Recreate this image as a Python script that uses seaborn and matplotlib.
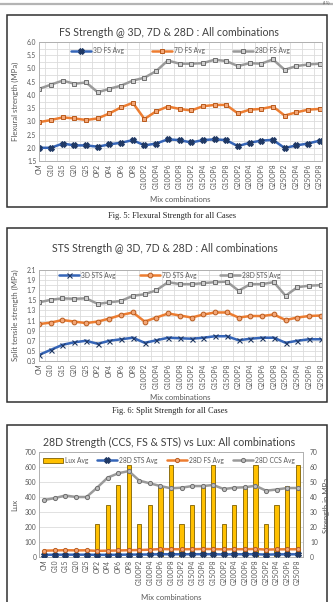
import numpy as np
import pandas as pd
import matplotlib
matplotlib.use("Agg")
import matplotlib.pyplot as plt
from matplotlib.patches import Rectangle
from matplotlib.lines import Line2D
from matplotlib.ticker import MultipleLocator, FixedLocator
import seaborn as sns

# mix names (x axis of all three charts)
mixes = ["CM", "G10", "G15", "G20", "G25", "OP2", "OP4", "OP6", "OP8",
         "G10OP2", "G10OP4", "G10OP6", "G10OP8", "G15OP2", "G15OP4", "G15OP6", "G15OP8",
         "G20OP2", "G20OP4", "G20OP6", "G20OP8", "G25OP2", "G25OP4", "G25OP6", "G25OP8"]

# flexural strength (MPa)
fs_3d = [2.00, 2.00, 2.16, 2.09, 2.09, 2.04, 2.13, 2.19, 2.29, 2.09, 2.16, 2.32, 2.29,
         2.20, 2.29, 2.32, 2.29, 2.06, 2.19, 2.27, 2.30, 1.99, 2.09, 2.16, 2.27]
fs_7d = [2.97, 3.05, 3.15, 3.11, 3.05, 3.11, 3.30, 3.53, 3.70, 3.09, 3.38, 3.56, 3.47,
         3.41, 3.57, 3.62, 3.62, 3.30, 3.44, 3.47, 3.56, 3.22, 3.34, 3.44, 3.47]
fs_28d = [4.23, 4.39, 4.54, 4.42, 4.47, 4.10, 4.23, 4.35, 4.54, 4.65, 4.90, 5.30, 5.18,
          5.18, 5.20, 5.33, 5.28, 5.09, 5.20, 5.18, 5.34, 4.95, 5.09, 5.15, 5.18]

# split tensile strength (MPa)
sts_3d = [0.42, 0.52, 0.62, 0.67, 0.70, 0.64, 0.70, 0.73, 0.76, 0.66, 0.71, 0.76, 0.75,
          0.74, 0.76, 0.79, 0.79, 0.71, 0.74, 0.76, 0.76, 0.66, 0.70, 0.73, 0.73]
sts_7d = [1.03, 1.06, 1.11, 1.08, 1.05, 1.08, 1.14, 1.21, 1.26, 1.08, 1.16, 1.24, 1.20,
          1.16, 1.22, 1.26, 1.26, 1.16, 1.19, 1.19, 1.22, 1.11, 1.16, 1.19, 1.20]
sts_28d = [1.46, 1.51, 1.54, 1.53, 1.54, 1.43, 1.46, 1.49, 1.59, 1.62, 1.70, 1.86, 1.82,
           1.82, 1.84, 1.86, 1.87, 1.69, 1.82, 1.82, 1.86, 1.59, 1.76, 1.79, 1.80]

# lux and 28D compressive strength
lux = [0, 0, 0, 0, 0, 220, 350, 480, 615, 220, 350, 470, 615,
       220, 350, 475, 615, 220, 350, 475, 615, 220, 350, 475, 615]
ccs_28d = [38.0, 39.3, 41.0, 40.0, 40.0, 46.2, 52.9, 55.8, 57.3, 50.9, 49.1, 47.3, 45.8,
           46.2, 47.3, 47.3, 48.0, 45.3, 46.2, 46.5, 47.5, 44.2, 45.0, 46.0, 46.0]

W, H = 333, 602
BLUE, BLUE_D = "#3565b8", "#1f3864"
ORANGE, ORANGE_D = "#ed7d31", "#b85a1c"
GREY, GREY_D = "#9a9a9a", "#6e6e6e"
GRID = "#dcdcdc"
TXT = "#595959"
FONT = ["Lato", "DejaVu Sans"]

sns.set_theme(style="white")
plt.rcParams["font.family"] = FONT


def box(l, t, r, b):
    return [l / W, 1 - b / H, (r - l) / W, (b - t) / H]


def fx(x):
    return x / W


def fy(y):
    return 1 - y / H


fig = plt.figure(figsize=(W / 100, H / 100), dpi=100)
fig.patch.set_facecolor("white")

# page rule and page number at the very top
fig.add_artist(Line2D([0, 1], [fy(4), fy(4)], transform=fig.transFigure, color="#b4b4b4", lw=1.6))
fig.text(fx(330), fy(0.2), "(15)", ha="right", va="top", fontsize=3.2, color="#444444",
         family="Liberation Serif")

# chart frames and captions
for top, bot in [(15, 207), (228, 402), (425, 604)]:
    fig.add_artist(Rectangle((fx(7), fy(bot)), (327 - 7) / W, (bot - top) / H,
                             transform=fig.transFigure, fill=False, ec="#303030", lw=1.1))
fig.text(fx(172), fy(216), "Fig. 5: Flexural Strength for all Cases", ha="center", va="center",
         fontsize=6.0, family="Liberation Serif", color="#222222")
fig.text(fx(170), fy(411), "Fig. 6: Split Strength for all Cases", ha="center", va="center",
         fontsize=6.0, family="Liberation Serif", color="#222222")

idx = np.arange(len(mixes))


def style_axis(ax, ylo, yhi, major, minor, vgrid=True):
    ax.set_ylim(ylo, yhi)
    ax.yaxis.set_major_locator(MultipleLocator(major))
    ax.yaxis.set_minor_locator(MultipleLocator(minor))
    ax.set_xticks(idx)
    ax.set_xticklabels(mixes, rotation=90, fontsize=4.8, color=TXT)
    ax.tick_params(axis="both", length=0, pad=2, labelsize=4.8, colors=TXT)
    ax.grid(True, which="both", axis="y", color=GRID, lw=0.6)
    if vgrid:
        ax.xaxis.set_minor_locator(FixedLocator(idx[:-1] + 0.5))
        ax.grid(True, which="minor", axis="x", color=GRID, lw=0.6)
    ax.set_axisbelow(True)
    for s in ax.spines.values():
        s.set_color("#b0b0b0")
        s.set_linewidth(0.7)
    ax.set_xlabel("")
    ax.set_ylabel("")


# ---- chart 1: flexural strength
ax1 = fig.add_axes(box(39, 42, 322, 161))
sns.lineplot(x=idx, y=fs_3d, ax=ax1, color=BLUE, lw=1.8, marker="X", ms=4.2,
             mfc=BLUE_D, mec=BLUE_D, label="3D FS Avg")
sns.lineplot(x=idx, y=fs_7d, ax=ax1, color=ORANGE, lw=1.8, marker="s", ms=3.4,
             mfc="#f4a777", mec=ORANGE_D, mew=0.7, label="7D FS Avg")
sns.lineplot(x=idx, y=fs_28d, ax=ax1, color=GREY, lw=1.8, marker="s", ms=3.4,
             mfc="#cfcfcf", mec=GREY_D, mew=0.7, label="28D FS Avg")
ax1.set_xlim(-0.03, 24.2)
style_axis(ax1, 1.5, 6.0, 0.5, 0.25)
ax1.set_yticklabels([f"{v:.1f}" for v in ax1.get_yticks()])
ax1.legend(loc="center", bbox_to_anchor=(fx(180), fy(51)), bbox_transform=fig.transFigure,
           ncol=3, frameon=False, fontsize=4.8, handlelength=3.0, columnspacing=4.2,
           handletextpad=0.3, labelcolor=TXT)
fig.text(fx(169), fy(33), "FS Strength @ 3D, 7D & 28D : All combinations", ha="center",
         va="center", fontsize=7.6, color="#404040")
fig.text(fx(15), fy(101), "Flexural strength (MPa)", rotation=90, ha="center", va="center",
         fontsize=5.6, color=TXT)
fig.text(fx(180), fy(200), "Mix combinations", ha="center", va="center", fontsize=5.6, color=TXT)

# ---- chart 2: split tensile strength
ax2 = fig.add_axes(box(39, 270, 322, 361))
sns.lineplot(x=idx, y=sts_3d, ax=ax2, color=BLUE, lw=1.8, marker="x", ms=3.6,
             mec=BLUE_D, mew=0.8, label="3D STS Avg")
sns.lineplot(x=idx, y=sts_7d, ax=ax2, color=ORANGE, lw=1.8, marker="o", ms=3.4,
             mfc="#f4a777", mec=ORANGE_D, mew=0.7, label="7D STS Avg")
sns.lineplot(x=idx, y=sts_28d, ax=ax2, color=GREY, lw=1.8, marker="s", ms=3.4,
             mfc="#cfcfcf", mec=GREY_D, mew=0.7, label="28D STS Avg")
ax2.set_xlim(0, 24.1)
style_axis(ax2, 0.3, 2.1, 0.2, 0.1)
ax2.set_yticks(np.arange(0.3, 2.11, 0.2))
ax2.set_yticklabels([f"{v:.1f}" for v in np.arange(0.3, 2.11, 0.2)])
ax2.legend(loc="center", bbox_to_anchor=(fx(170), fy(275)), bbox_transform=fig.transFigure,
           ncol=3, frameon=False, fontsize=4.8, handlelength=3.0, columnspacing=3.6,
           handletextpad=0.3, labelcolor=TXT)
fig.text(fx(165), fy(249), "STS Strength @ 3D, 7D & 28D : All combinations", ha="center",
         va="center", fontsize=7.6, color="#404040")
fig.text(fx(15), fy(315), "Split tensile strength (MPa)", rotation=90, ha="center", va="center",
         fontsize=5.6, color=TXT)
fig.text(fx(180), fy(397), "Mix combinations", ha="center", va="center", fontsize=5.6, color=TXT)

# ---- chart 3: 28D strengths vs lux
ax3 = fig.add_axes(box(39, 452, 303, 557))
sns.barplot(x=mixes, y=lux, ax=ax3, color="#ffc000", saturation=1, width=0.4,
            edgecolor="#7f6000", linewidth=0.6, label="Lux Avg")
ax3.set_xlim(-0.5, 24.5)
style_axis(ax3, 0, 700, 100, 100, vgrid=False)
ax3b = ax3.twinx()
sns.lineplot(x=idx, y=sts_28d, ax=ax3b, color=BLUE, lw=1.8, marker="X", ms=3.8,
             mfc=BLUE_D, mec=BLUE_D, label="28D STS Avg")
sns.lineplot(x=idx, y=fs_28d, ax=ax3b, color=ORANGE, lw=1.8, marker="o", ms=3.0,
             mfc="#f4a777", mec=ORANGE_D, mew=0.7, label="28D FS Avg")
sns.lineplot(x=idx, y=ccs_28d, ax=ax3b, color=GREY, lw=1.8, marker="o", ms=3.0,
             mfc="#bdbdbd", mec=GREY_D, mew=0.7, label="28D CCS Avg")
ax3b.set_ylim(0, 70)
ax3b.yaxis.set_major_locator(MultipleLocator(10))
ax3b.tick_params(axis="y", length=0, pad=5, labelsize=4.8, colors=TXT)
ax3b.set_ylabel("")
for s in ax3b.spines.values():
    s.set_visible(False)
h1, l1 = ax3.get_legend_handles_labels()
h2, l2 = ax3b.get_legend_handles_labels()
if ax3.get_legend():
    ax3.get_legend().remove()
ax3b.legend(h1 + h2, l1 + l2, loc="center", bbox_to_anchor=(fx(169), fy(460)),
            bbox_transform=fig.transFigure, ncol=4, frameon=False, fontsize=4.8,
            handlelength=3.0, columnspacing=1.4, handletextpad=0.3, labelcolor=TXT)
fig.text(fx(169), fy(442), "28D Strength (CCS, FS & STS) vs Lux: All combinations", ha="center",
         va="center", fontsize=7.6, color="#404040")
fig.text(fx(15), fy(505), "Lux", rotation=90, ha="center", va="center", fontsize=5.6, color=TXT)
fig.text(fx(326), fy(505), "Strength in MPa", rotation=90, ha="center", va="center",
         fontsize=5.6, color=TXT)
fig.text(fx(171), fy(597), "Mix combinations", ha="center", va="center", fontsize=5.6, color=TXT)

fig.savefig("out.png", dpi=100)
